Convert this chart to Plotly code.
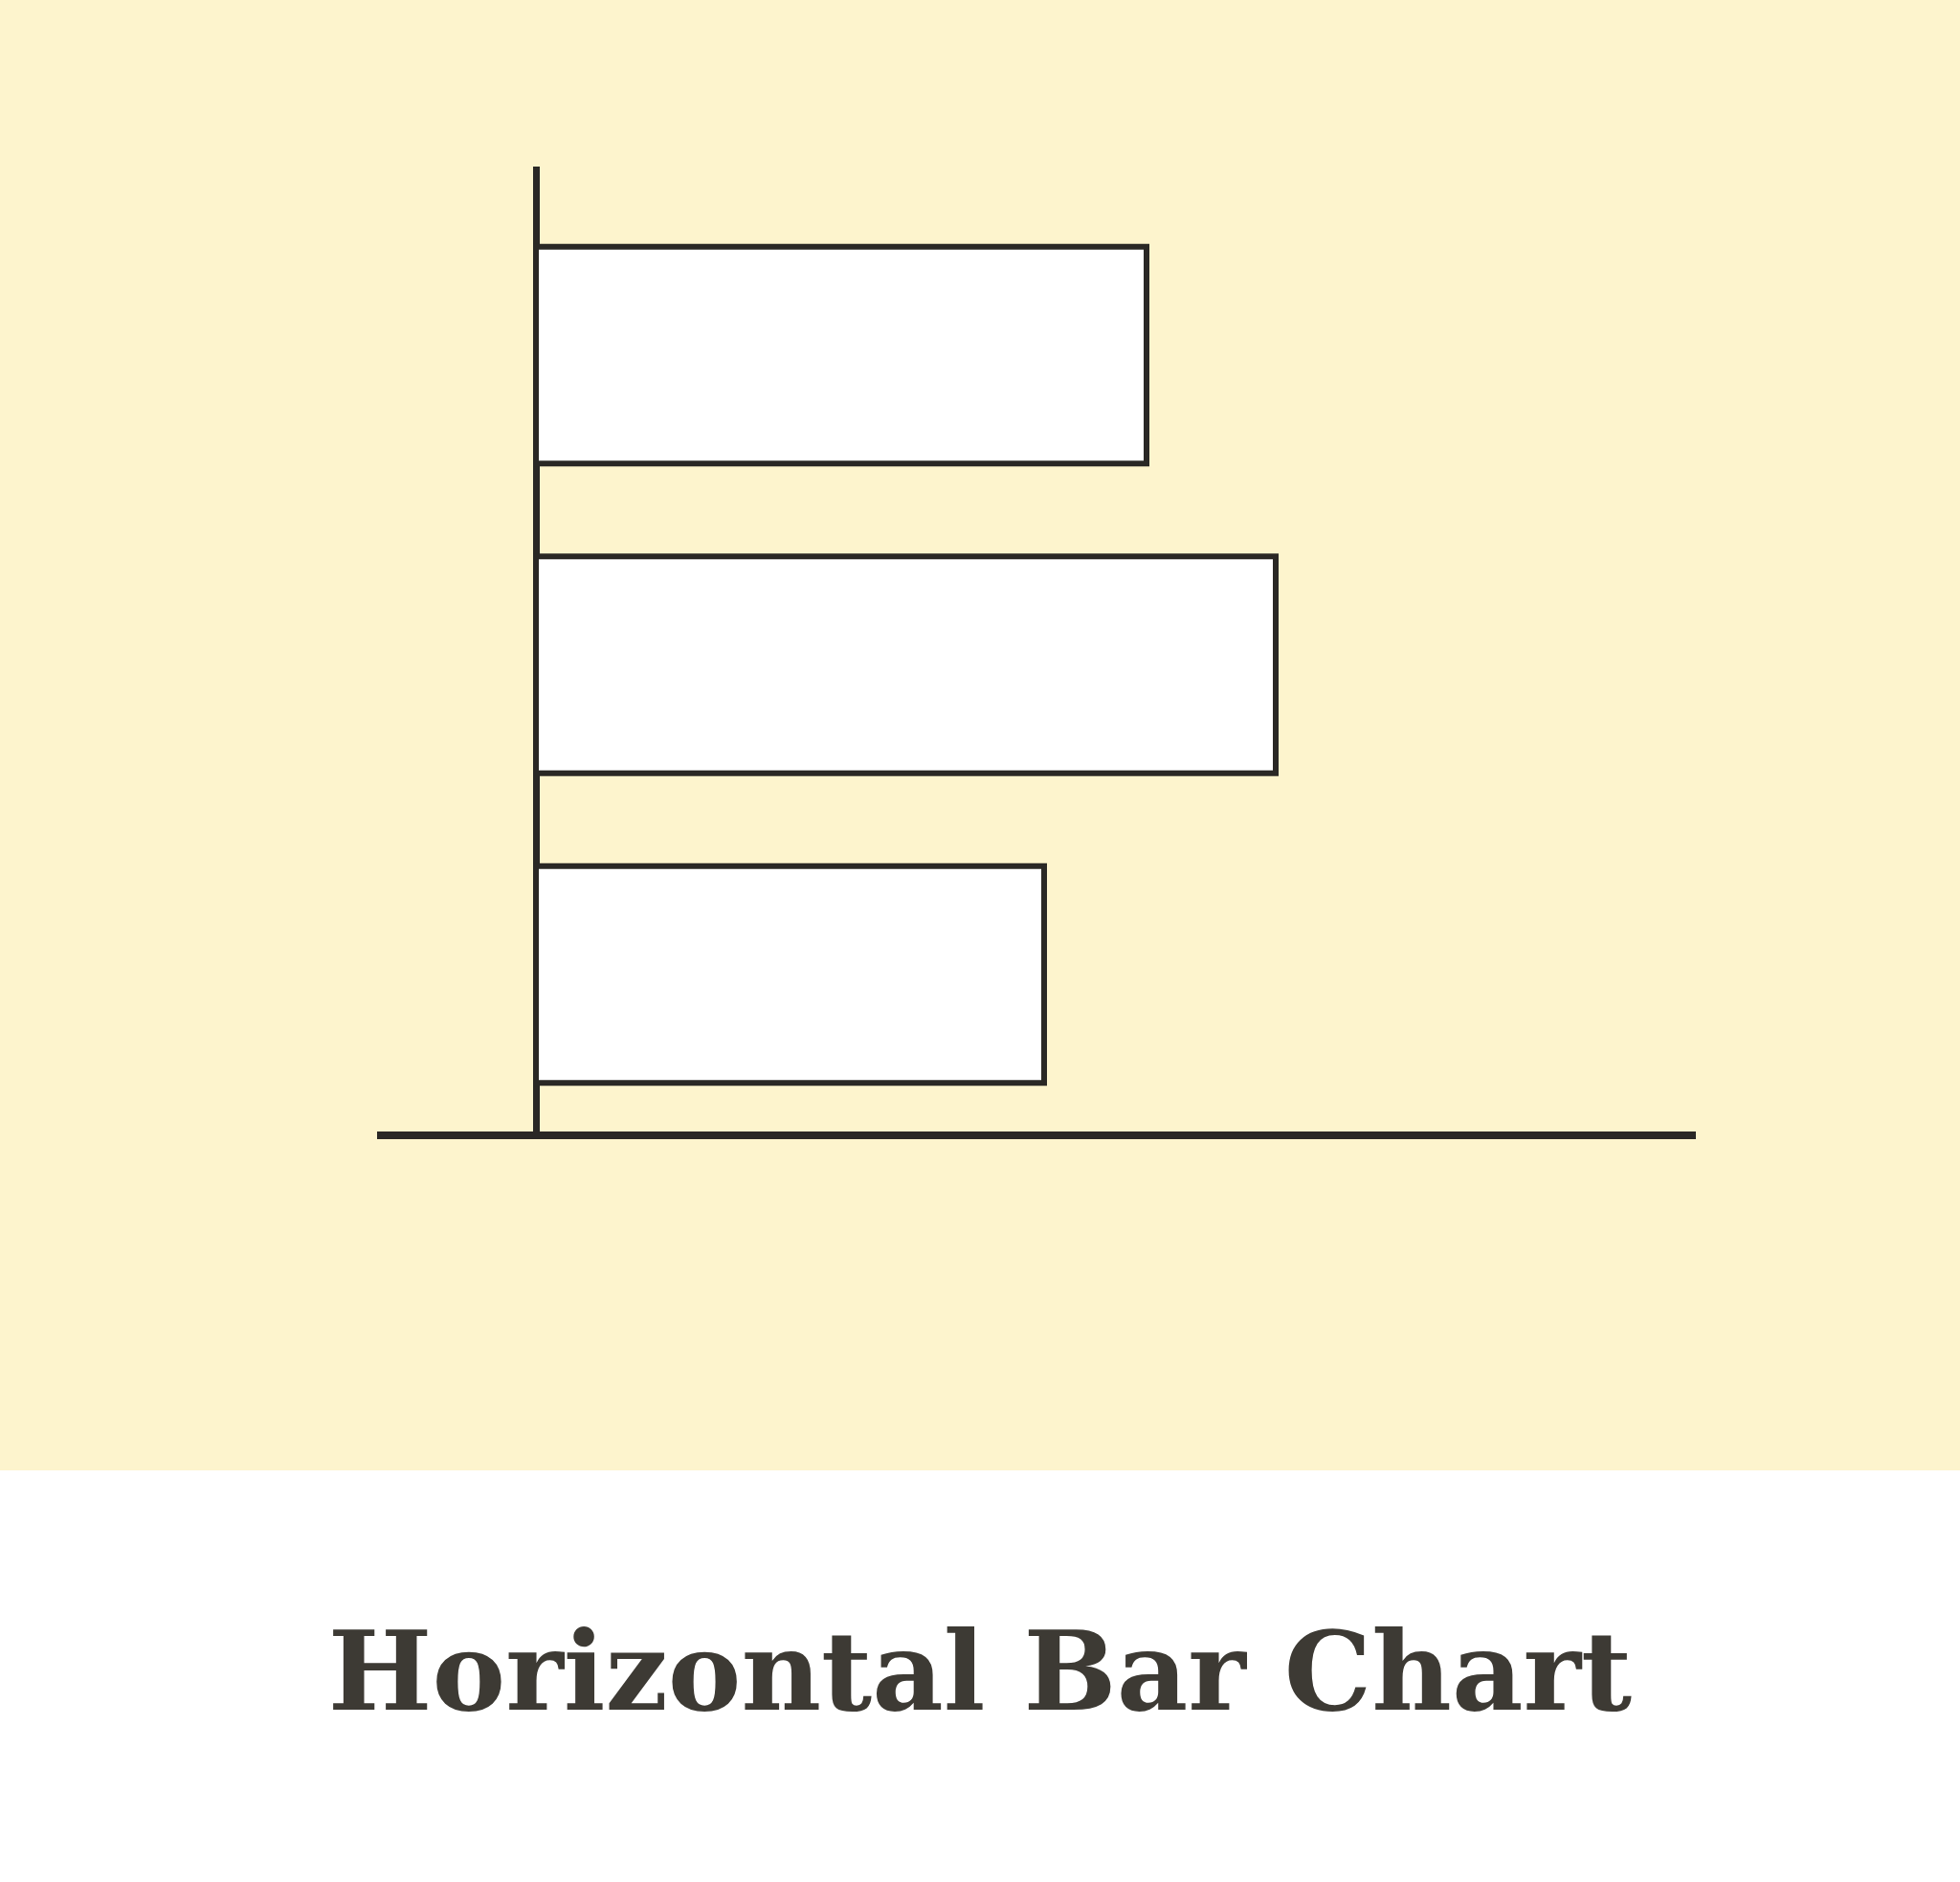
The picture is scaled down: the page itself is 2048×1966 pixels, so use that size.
import plotly.graph_objects as go

categories = ["A", "B", "C"]
values = [63.8, 77.3, 53.1]
title_text = "Horizontal Bar Chart"

INK = "#2a2825"
CREAM = "#fdf4cd"
TITLE_INK = "#3d3a34"

fig = go.Figure()
fig.add_trace(go.Bar(
    y=categories,
    x=values,
    orientation="h",
    marker=dict(color="#ffffff", line=dict(color=INK, width=6)),
    width=0.7,
    hoverinfo="skip",
))

W, H = 2048, 1966
L, R, T, B = 394, 1772, 174, 1182
pw, ph = R - L, B - T

def px_x(p):
    return (p - L) / pw

def px_y(p):
    return (B - p) / ph

fig.update_layout(
    width=W, height=H,
    margin=dict(l=L, r=W - R, t=T, b=H - B, pad=0),
    paper_bgcolor="#ffffff",
    plot_bgcolor="rgba(0,0,0,0)",
    showlegend=False,
    shapes=[dict(
        type="rect", xref="paper", yref="paper",
        x0=px_x(-5), x1=px_x(W + 5), y0=px_y(1536), y1=px_y(-5),
        fillcolor=CREAM, line=dict(width=0), layer="below",
    )],
    title=dict(
        text="<b>" + title_text + "</b>",
        x=0.5, xanchor="center", xref="container",
        y=1 - 1746 / H, yanchor="middle", yref="container",
        font=dict(family="DejaVu Serif, serif", size=115, color=TITLE_INK),
    ),
    xaxis=dict(
        range=[(L - 560) / 10, (R - 560) / 10],
        showgrid=False, showticklabels=False, ticks="",
        zeroline=True, zerolinecolor=INK, zerolinewidth=7,
        showline=True, linecolor=INK, linewidth=8,
        fixedrange=True,
    ),
    yaxis=dict(
        type="category",
        range=[2.507, -0.609],
        showgrid=False, showticklabels=False, ticks="",
        zeroline=False, showline=False,
        fixedrange=True,
    ),
)

fig.write_html(
    "out.html",
    config={"displayModeBar": False},
    post_script="document.body.style.margin='0';",
)
